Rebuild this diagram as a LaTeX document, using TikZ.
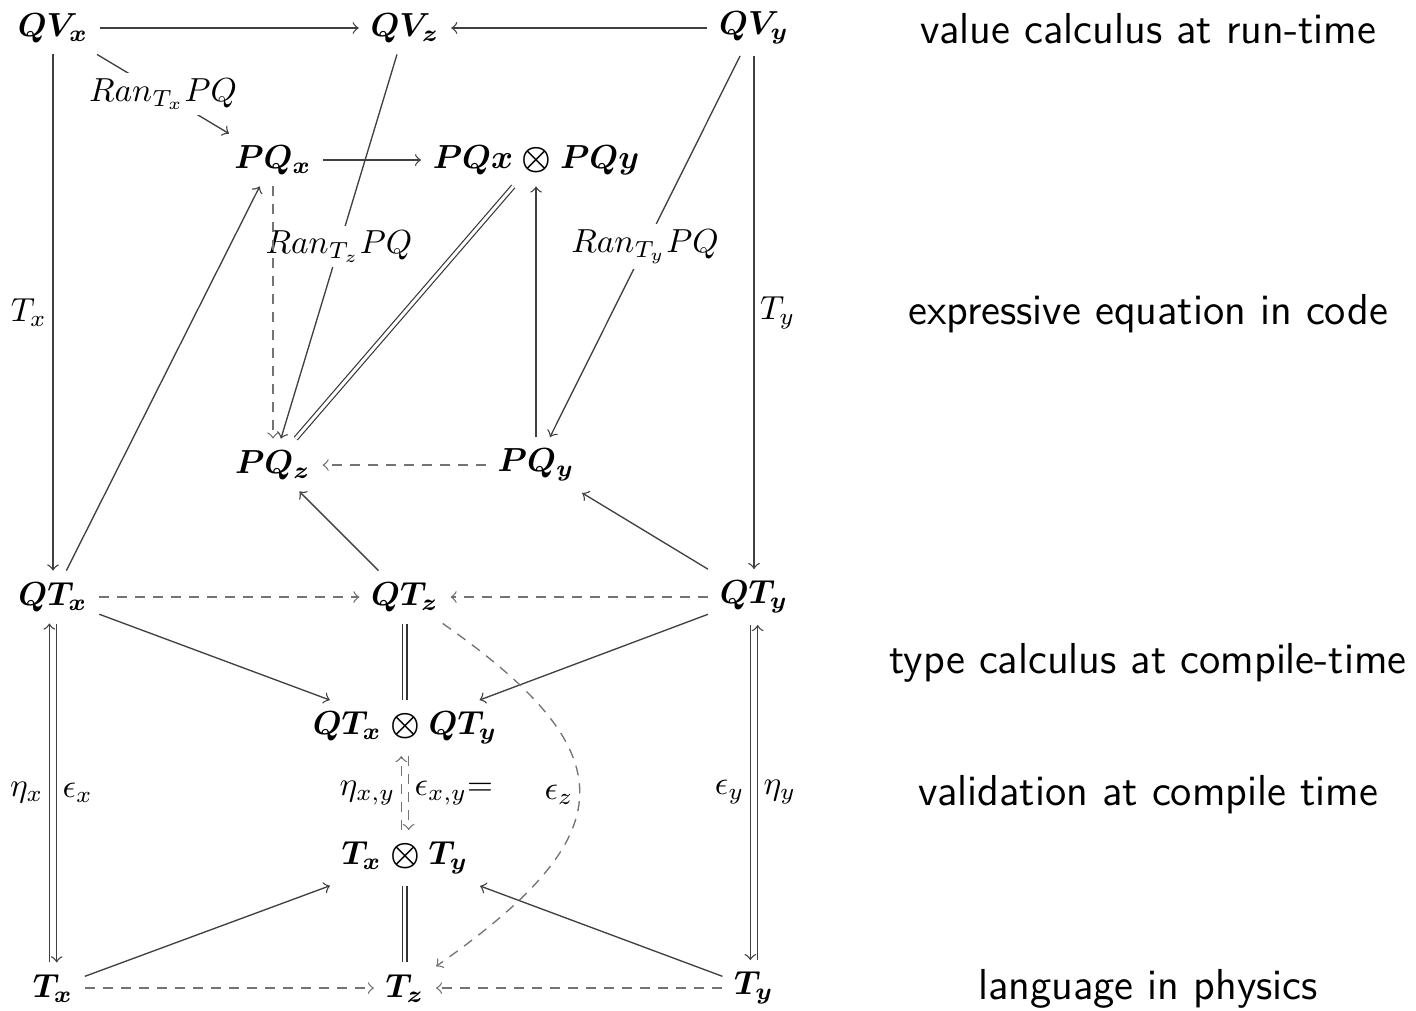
\documentclass[tikz,border=0pt]{standalone}
\usepackage{xcolor}
\usepackage{amsmath}
\usepackage{tikz}

\begin{document}
\begin{tikzpicture}[
  arr/.style={->, draw=black!75, line width=0.4pt},
  dasharr/.style={->, draw=black!55, line width=0.4pt, dash pattern=on 3pt off 2.4pt},
  eqline/.style={draw=black!80, line width=0.35pt, double, double distance=0.9pt},
  desc/.style={fill=white, inner sep=1.5pt},
  lab/.style={inner sep=1.6pt},
  layer/.style={font=\sffamily\fontsize{13}{15}\selectfont, anchor=base}]
  \useasboundingbox (0,0) rectangle (14.93,-10.65);

  % Nodes
  \node (QVx) at (0.559,-0.295) {$\boldsymbol{QV_x}$};
  \node (QVz) at (4.270,-0.295) {$\boldsymbol{QV_z}$};
  \node (QVy) at (7.950,-0.295) {$\boldsymbol{QV_y}$};
  \node (PQx) at (2.878,-1.687) {$\boldsymbol{PQ_x}$};
  \node (PQt) at (5.652,-1.687) {$\boldsymbol{PQx \otimes PQy}$};
  \node (PQz) at (2.878,-4.903) {$\boldsymbol{PQ_z}$};
  \node (PQy) at (5.652,-4.903) {$\boldsymbol{PQ_y}$};
  \node (QTx) at (0.559,-6.295) {$\boldsymbol{QT_x}$};
  \node (QTz) at (4.270,-6.295) {$\boldsymbol{QT_z}$};
  \node (QTy) at (7.950,-6.295) {$\boldsymbol{QT_y}$};
  \node (QTt) at (4.270,-7.676) {$\boldsymbol{QT_x \otimes QT_y}$};
  \node (Tt)  at (4.270,-9.047) {$\boldsymbol{T_x \otimes T_y}$};
  \node (Tx)  at (0.559,-10.418) {$\boldsymbol{T_x}$};
  \node (Tz)  at (4.270,-10.418) {$\boldsymbol{T_z}$};
  \node (Ty)  at (7.950,-10.418) {$\boldsymbol{T_y}$};

  % Layers
  \node[layer] (runtime) at (12.105,-0.458) {value calculus at run-time};
  \node[layer] (code) at (12.105,-3.417) {expressive equation in code};
  \node[layer] (types) at (12.105,-7.096) {type calculus at compile-time};
  \node[layer] (valid) at (12.105,-8.488) {validation at compile time};
  \node[layer] (phys) at (12.105,-10.534) {language in physics};

  % Edges
  \draw[arr] (QVx) -- (QVz);
  \draw[arr] (QVy) -- (QVz);
  \draw[arr] (QVx) -- (PQx) node[midway, desc] {$Ran_{T_x}PQ$};
  \draw[arr] (QVz) -- (PQz) node[midway, desc] {$Ran_{T_z}PQ$};
  \draw[arr] (QVy) -- (PQy) node[midway, desc] {$Ran_{T_y}PQ$};
  \draw[arr] (QVx) -- (QTx) node[midway, left, lab] {$T_x$};
  \draw[arr] (QVy) -- (QTy) node[midway, right, lab] {$T_y$};
  \draw[arr] (PQx) -- (PQt);
  \draw[dasharr] (PQx) -- (PQz);
  \draw[eqline] (PQt) -- (PQz);
  \draw[arr] (PQy) -- (PQt);
  \draw[dasharr] (PQy) -- (PQz);
  \draw[arr] (QTx) -- (PQx);
  \draw[arr] (QTz) -- (PQz);
  \draw[arr] (QTy) -- (PQy);
  \draw[dasharr] (QTx) -- (QTz);
  \draw[dasharr] (QTy) -- (QTz);
  \draw[arr] (QTx) -- (QTt);
  \draw[arr] (QTy) -- (QTt);
  \draw[eqline] (QTz) -- (QTt);
  \draw[arr] ([xshift=-1.1pt]Tx.north) -- ([xshift=-1.1pt]QTx.south) node[midway, left, lab] {$\eta_x$};
  \draw[arr] ([xshift=1.1pt]QTx.south) -- ([xshift=1.1pt]Tx.north) node[midway, right, lab] {$\epsilon_x$};
  \draw[arr] ([xshift=-1.1pt]QTy.south) -- ([xshift=-1.1pt]Ty.north) node[midway, left, lab] {$\epsilon_y$};
  \draw[arr] ([xshift=1.1pt]Ty.north) -- ([xshift=1.1pt]QTy.south) node[midway, right, lab] {$\eta_y$};
  \draw[dasharr] ([xshift=-1.1pt]Tt.north) -- ([xshift=-1.1pt]QTt.south) node[midway, left, lab] {$\eta_{x,y}$};
  \draw[dasharr] ([xshift=1.1pt]QTt.south) -- ([xshift=1.1pt]Tt.north) node[midway, right, lab] {$\epsilon_{x,y}$=};
  \draw[eqline] (Tt) -- (Tz);
  \draw[arr] (Tx) -- (Tt);
  \draw[arr] (Ty) -- (Tt);
  \draw[dasharr] (Tx) -- (Tz);
  \draw[dasharr] (Ty) -- (Tz);
  \draw[dasharr] (QTz) to[out=-35, in=35, looseness=1.7] node[midway, left, lab] {$\epsilon_z$} (Tz);
\end{tikzpicture}
\end{document}
